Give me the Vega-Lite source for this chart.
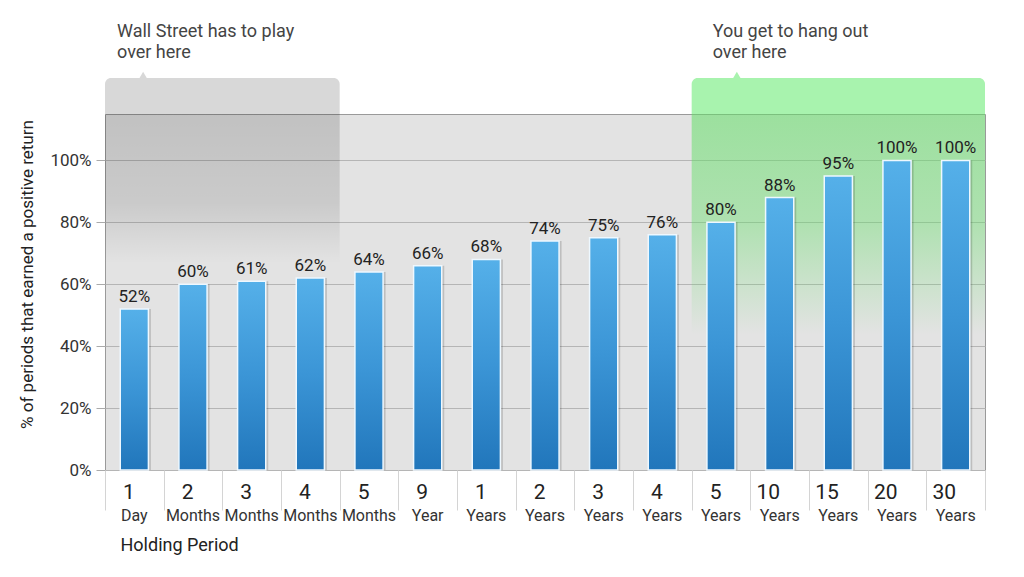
{
  "$schema": "https://vega.github.io/schema/vega-lite/v6.json",
  "width": 880,
  "height": 356,
  "autosize": {"type": "none"},
  "padding": {"left": 105, "top": 114, "right": 39, "bottom": 107},
  "background": "#ffffff",
  "config": {
    "font": "Roboto",
    "view": {"fill": "#e3e3e3", "stroke": "#9a9a9a", "strokeWidth": 1}
  },
  "datasets": {
    "bars": [
      {"period": "1 Day", "n": "1", "unit": "Day", "value": 0.52},
      {"period": "2 Months", "n": "2", "unit": "Months", "value": 0.60},
      {"period": "3 Months", "n": "3", "unit": "Months", "value": 0.61},
      {"period": "4 Months", "n": "4", "unit": "Months", "value": 0.62},
      {"period": "5 Months", "n": "5", "unit": "Months", "value": 0.64},
      {"period": "9 Year", "n": "9", "unit": "Year", "value": 0.66},
      {"period": "1 Years", "n": "1", "unit": "Years", "value": 0.68},
      {"period": "2 Years", "n": "2", "unit": "Years", "value": 0.74},
      {"period": "3 Years", "n": "3", "unit": "Years", "value": 0.75},
      {"period": "4 Years", "n": "4", "unit": "Years", "value": 0.76},
      {"period": "5 Years", "n": "5", "unit": "Years", "value": 0.80},
      {"period": "10 Years", "n": "10", "unit": "Years", "value": 0.88},
      {"period": "15 Years", "n": "15", "unit": "Years", "value": 0.95},
      {"period": "20 Years", "n": "20", "unit": "Years", "value": 1.00},
      {"period": "30 Years", "n": "30", "unit": "Years", "value": 1.00}
    ],
    "callouts": [
      {"group": "wall", "from": "1 Day", "to": "4 Months", "text": ["Wall Street has to play", "over here"]},
      {"group": "you", "from": "5 Years", "to": "30 Years", "text": ["You get to hang out", "over here"]}
    ]
  },
  "layer": [
    {
      "data": {"name": "callouts"},
      "transform": [{"filter": "datum.group == 'wall'"}],
      "layer": [
        {
          "mark": {"type": "rect", "fill": {"gradient": "linear", "x1": 0, "y1": 0, "x2": 0, "y2": 1, "stops": [
            {"offset": 0, "color": "rgba(0,0,0,0.15)"},
            {"offset": 0.25, "color": "rgba(0,0,0,0.11)"},
            {"offset": 0.42, "color": "rgba(0,0,0,0.0)"},
            {"offset": 1, "color": "rgba(0,0,0,0.0)"}]}},
          "encoding": {
            "x": {"field": "from", "type": "nominal", "bandPosition": 0},
            "x2": {"field": "to", "bandPosition": 1},
            "y": {"datum": 0},
            "y2": {"datum": 1.15}
          }
        },
        {
          "mark": {"type": "rect", "fill": "#d8d8d8", "cornerRadiusTopLeft": 6, "cornerRadiusTopRight": 6},
          "encoding": {
            "x": {"field": "from", "type": "nominal", "bandPosition": 0},
            "x2": {"field": "to", "bandPosition": 1},
            "y": {"datum": 1.15},
            "y2": {"datum": 1.266}
          }
        },
        {
          "mark": {"type": "point", "shape": "triangle-up", "filled": true, "color": "#d8d8d8", "opacity": 1, "size": 110},
          "encoding": {
            "x": {"field": "from", "type": "nominal", "bandPosition": 0.65},
            "y": {"datum": 1.272}
          }
        },
        {
          "mark": {"type": "text", "align": "left", "baseline": "bottom", "fontSize": 18, "lineHeight": 21, "color": "#444", "dx": 12, "dy": -37},
          "encoding": {
            "x": {"field": "from", "type": "nominal", "bandPosition": 0},
            "y": {"datum": 1.266},
            "text": {"field": "text"}
          }
        }
      ]
    },
    {
      "data": {"name": "callouts"},
      "transform": [{"filter": "datum.group == 'you'"}],
      "layer": [
        {
          "mark": {"type": "rect", "fill": {"gradient": "linear", "x1": 0, "y1": 0, "x2": 0, "y2": 1, "stops": [
            {"offset": 0, "color": "rgba(100,222,104,0.56)"},
            {"offset": 0.3, "color": "rgba(100,222,104,0.42)"},
            {"offset": 0.62, "color": "rgba(100,222,104,0.0)"},
            {"offset": 1, "color": "rgba(100,222,104,0.0)"}]}},
          "encoding": {
            "x": {"field": "from", "type": "nominal", "bandPosition": 0},
            "x2": {"field": "to", "bandPosition": 1},
            "y": {"datum": 0},
            "y2": {"datum": 1.15}
          }
        },
        {
          "mark": {"type": "rect", "fill": "#a8f3ae", "cornerRadiusTopLeft": 6, "cornerRadiusTopRight": 6},
          "encoding": {
            "x": {"field": "from", "type": "nominal", "bandPosition": 0},
            "x2": {"field": "to", "bandPosition": 1},
            "y": {"datum": 1.15},
            "y2": {"datum": 1.266}
          }
        },
        {
          "mark": {"type": "point", "shape": "triangle-up", "filled": true, "color": "#a8f3ae", "opacity": 1, "size": 110},
          "encoding": {
            "x": {"field": "from", "type": "nominal", "bandPosition": 0.77},
            "y": {"datum": 1.272}
          }
        },
        {
          "mark": {"type": "text", "align": "left", "baseline": "bottom", "fontSize": 18, "lineHeight": 21, "color": "#444", "dx": 21, "dy": -37},
          "encoding": {
            "x": {"field": "from", "type": "nominal", "bandPosition": 0},
            "y": {"datum": 1.266},
            "text": {"field": "text"}
          }
        }
      ]
    },
    {
      "data": {"name": "bars"},
      "layer": [
        {
          "mark": {"type": "bar", "width": {"band": 0.48}, "xOffset": 2.5, "fill": "rgba(0,0,0,0.16)"},
          "encoding": {
            "x": {"field": "period", "type": "nominal"},
            "y": {"field": "value", "type": "quantitative"}
          }
        },
        {
          "mark": {"type": "bar", "width": {"band": 0.48}, "stroke": "#eef8ff", "strokeWidth": 1.5,
            "fill": {"gradient": "linear", "x1": 0, "y1": 0, "x2": 0, "y2": 1, "stops": [
              {"offset": 0, "color": "#55b0e9"},
              {"offset": 0.5, "color": "#3b95d6"},
              {"offset": 1, "color": "#2176bb"}]}},
          "encoding": {
            "x": {
              "field": "period", "type": "nominal",
              "scale": {"domain": ["1 Day", "2 Months", "3 Months", "4 Months", "5 Months", "9 Year", "1 Years", "2 Years", "3 Years", "4 Years", "5 Years", "10 Years", "15 Years", "20 Years", "30 Years"], "paddingInner": 0, "paddingOuter": 0},
              "axis": {
                "title": "Holding Period", "titleAnchor": "start", "titleAlign": "left", "titleX": 15, "titleY": 66, "titleBaseline": "top",
                "titleFontSize": 18, "titleFontWeight": "normal", "titleColor": "#222",
                "labelExpr": "split(datum.label, ' ')[0]", "labelAngle": 0, "labelFontSize": 21, "labelColor": "#222",
                "labelPadding": -18, "tickBand": "extent", "tickSize": 40, "tickColor": "#d4d4d4", "domain": false, "grid": false
              }
            },
            "y": {
              "field": "value", "type": "quantitative",
              "scale": {"domain": [0, 1.15], "nice": false},
              "axis": {
                "title": "% of periods that earned a positive return", "titleFontSize": 17, "titleFontWeight": "normal", "titleColor": "#222",
                "titleX": -78, "titleY": 160, "titleAngle": -90, "titleAlign": "center", "titleBaseline": "middle",
                "values": [0, 0.2, 0.4, 0.6, 0.8, 1.0], "format": ".0%",
                "labelFontSize": 17, "labelColor": "#333", "labelPadding": 5, "tickSize": 9, "tickColor": "#aaaaaa",
                "domain": false, "grid": true, "gridColor": "#b5b5b5", "gridWidth": 1
              }
            }
          }
        },
        {
          "mark": {"type": "text", "baseline": "bottom", "dy": -3, "fontSize": 17, "color": "#222"},
          "encoding": {
            "x": {"field": "period", "type": "nominal"},
            "y": {"field": "value", "type": "quantitative"},
            "text": {"field": "value", "type": "quantitative", "format": ".0%"}
          }
        },
        {
          "mark": {"type": "text", "baseline": "middle", "dy": 46, "fontSize": 16, "color": "#333"},
          "encoding": {
            "x": {"field": "period", "type": "nominal"},
            "y": {"datum": 0},
            "text": {"field": "unit"}
          }
        }
      ]
    }
  ]
}
